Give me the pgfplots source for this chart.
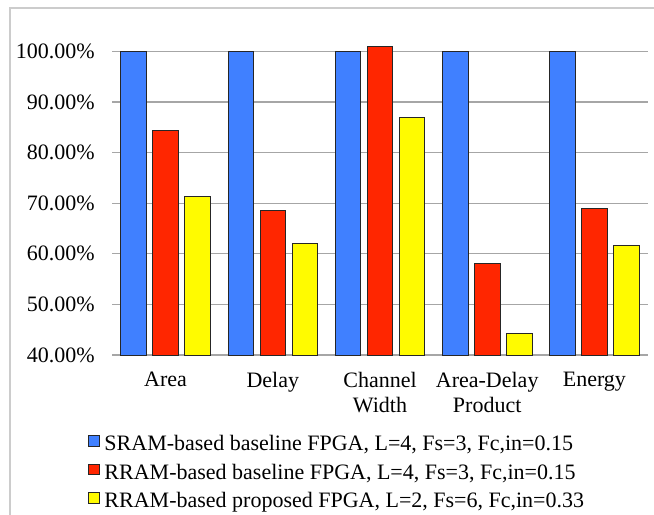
\documentclass[border=0pt]{standalone}
\usepackage{fontspec}
\setmainfont{Liberation Serif}
\usepackage{pgfplots}
\pgfplotsset{compat=1.18}
\definecolor{cblue}{RGB}{64,128,255}
\definecolor{cred}{RGB}{255,38,0}
\definecolor{cyellow}{RGB}{255,251,0}
\newcommand{\chartfont}{\fontsize{22bp}{25bp}\selectfont}
\begin{document}
\begin{tikzpicture}
\useasboundingbox (0,0) rectangle (654bp,515bp);
\draw[black!20, line width=1.2bp] (10bp,-20bp) -- (10bp,507bp) -- (700bp,507bp);
\begin{axis}[
  at={(112bp,160bp)}, anchor=south west,
  scale only axis, width=536bp, height=329bp,
  xmin=-0.5, xmax=4.5, ymin=40, ymax=105,
  clip=false,
  axis line style={draw=none},
  major tick length=0pt,
  ytick={40,50,...,100},
  yticklabels={\textrm{40.00\%},\textrm{50.00\%},\textrm{60.00\%},\textrm{70.00\%},\textrm{80.00\%},\textrm{90.00\%},\textrm{100.00\%}},
  ymajorgrids, major grid style={black!35, line width=1.2bp},
  xtick={0,...,4},
  xticklabels={Area, Delay, Channel\\Width, Area-Delay\\Product, Energy},
  xticklabel style={align=center, anchor=north, inner sep=0pt, yshift=-17bp, font=\chartfont},
  yticklabel style={anchor=east, inner sep=0pt, xshift=-17bp, font=\chartfont},
  ybar=6.5bp, bar width=25.5bp,
  every axis plot/.append style={draw=black!85, line width=0.9bp},
  legend image code/.code={\draw[#1, line width=0.8bp] (0bp,-1bp) rectangle (10.5bp,9.5bp);},
  legend cell align=left,
  legend style={at={(rel axis cs:-0.0448,-0.243)}, anchor=north west, draw=none, fill=none,
    inner sep=0pt, row sep=8bp, font=\chartfont,
    nodes={inner sep=0pt, text height=15.5bp, text depth=5bp},
    /tikz/every even column/.append style={column sep=0bp},
    /tikz/every odd column/.append style={column sep=5bp}},
]
\addplot[fill=cblue] coordinates {(0,100) (1,100) (2,100) (3,100) (4,100)};
\addplot[fill=cred] coordinates {(0,84.4) (1,68.6) (2,100.9) (3,58.1) (4,69.0)};
\addplot[fill=cyellow] coordinates {(0,71.3) (1,62.1) (2,86.9) (3,44.3) (4,61.6)};
\legend{{SRAM-based baseline FPGA, L=4, Fs=3, Fc,in=0.15},
        {RRAM-based baseline FPGA, L=4, Fs=3, Fc,in=0.15},
        {RRAM-based proposed FPGA, L=2, Fs=6, Fc,in=0.33}}
\end{axis}
\end{tikzpicture}
\end{document}
